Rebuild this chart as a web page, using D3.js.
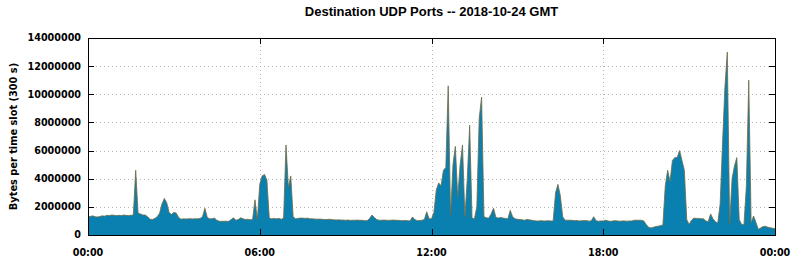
<!DOCTYPE html>
<html>
<head>
<meta charset="utf-8">
<script src="https://cdn.jsdelivr.net/npm/d3@7"></script>
<style>
    html, body { margin: 0; padding: 0; background: #ffffff; }
    svg { display: block; }
</style>
</head>
<body>
<div id="chart"></div>
<script>
'use strict';

// bytes per 5 minute slot, in millions, one row per hour (00:00 .. 24:00)
var bytesMillions = [
    1.30,1.32,1.36,1.30,1.28,1.32,1.36,1.34,1.40,1.38,1.42,1.40,
    1.38,1.40,1.38,1.42,1.40,1.38,1.40,1.42,4.60,1.55,1.50,1.42,
    1.42,1.30,1.12,1.10,1.18,1.30,1.55,2.20,2.60,2.30,1.60,1.45,
    1.62,1.55,1.25,1.12,1.15,1.14,1.15,1.16,1.14,1.16,1.15,1.18,
    1.30,1.90,1.25,1.15,1.15,1.20,1.05,0.98,0.97,0.98,0.98,0.97,
    1.10,1.22,1.05,1.10,1.22,1.15,1.10,1.12,1.08,1.10,2.50,1.10,
    3.60,4.20,4.30,3.90,1.20,1.15,1.18,1.15,1.18,1.12,1.20,6.40,
    3.40,4.20,1.30,1.15,1.18,1.20,1.20,1.18,1.20,1.15,1.15,1.14,
    1.12,1.13,1.12,1.10,1.10,1.12,1.10,1.08,1.07,1.08,1.06,1.06,
    1.05,1.06,1.04,1.05,1.05,1.06,1.04,1.05,1.02,1.02,1.15,1.42,
    1.25,1.10,1.05,1.05,1.06,1.05,1.04,1.05,1.06,1.05,1.04,1.03,
    1.02,1.03,1.02,1.00,1.28,1.10,1.02,1.03,1.05,1.10,1.65,1.15,
    1.15,1.60,3.20,3.70,3.50,4.60,4.80,10.60,1.40,5.00,6.30,2.70,
    5.00,6.40,1.30,4.00,7.80,1.20,1.15,2.00,8.30,9.80,1.30,1.22,
    1.20,1.50,1.90,1.25,1.20,1.25,1.20,1.18,1.15,1.75,1.30,1.15,
    1.12,1.10,1.08,1.05,1.10,1.08,1.05,1.02,1.00,1.00,1.02,1.00,
    1.00,1.02,1.00,1.00,3.00,3.60,2.80,1.30,1.05,1.05,1.05,1.04,
    1.02,1.03,1.00,1.02,1.02,1.03,0.98,1.02,1.30,1.02,0.98,1.00,
    1.00,1.05,1.00,0.97,1.00,1.02,1.00,0.98,1.00,1.00,0.98,1.00,
    1.00,1.05,1.05,1.05,1.05,1.00,0.75,0.55,0.50,0.55,0.60,0.62,
    0.68,0.70,3.50,4.60,3.80,5.30,5.50,5.50,6.00,5.30,4.60,1.10,
    0.75,1.05,1.20,1.18,1.18,1.15,1.15,1.00,0.95,1.50,1.15,0.95,
    0.85,2.20,6.50,10.50,13.00,0.80,4.00,4.90,5.50,1.10,0.75,0.75,
    3.50,11.00,0.85,1.35,0.90,0.40,0.50,0.60,0.62,0.55,0.52,0.48,
    0.45
];

var slotMinutes = 5;
var yTicks      = [0, 2000000, 4000000, 6000000, 8000000, 10000000, 12000000, 14000000];
var xTickHours  = [0, 6, 12, 18, 24];
var xTickLabels = ["00:00", "06:00", "12:00", "18:00", "00:00"];

var titleText  = "Destination UDP Ports -- 2018-10-24 GMT";
var yLabelText = "Bytes per time slot (300 s)";

/*==============================
=            Layout            =
==============================*/
var width  = 794,
    height = 260,
    margin = { top: 38, right: 19, bottom: 25, left: 88 };

var plotW = width - margin.left - margin.right,
    plotH = height - margin.top - margin.bottom;

var svg = d3.select("#chart").append("svg")
    .attr("width", width)
    .attr("height", height);

var x = d3.scaleLinear().domain([0, 24]).range([0, plotW]);
var y = d3.scaleLinear().domain([0, 14000000]).range([plotH, 0]);

var g = svg.append("g")
    .attr("transform", "translate(" + margin.left + "," + margin.top + ")");

/*==============================
=             Grid             =
==============================*/
g.append("g").selectAll("line").data(yTicks.slice(1, -1)).enter()
    .append("line")
        .attr("x1", 0).attr("x2", plotW)
        .attr("y1", function(d) { return Math.round(y(d)) + 0.5; })
        .attr("y2", function(d) { return Math.round(y(d)) + 0.5; })
        .attr("stroke", "#b4b4b4")
        .attr("stroke-dasharray", "1,3");

g.append("g").selectAll("line").data(xTickHours.slice(1, -1)).enter()
    .append("line")
        .attr("x1", function(d) { return Math.round(x(d)) + 0.5; })
        .attr("x2", function(d) { return Math.round(x(d)) + 0.5; })
        .attr("y1", 0).attr("y2", plotH)
        .attr("stroke", "#b4b4b4")
        .attr("stroke-dasharray", "1,3");

/*==============================
=             Area             =
==============================*/
var points = bytesMillions.map(function(v, i) {
    return { hour: i * slotMinutes / 60, value: v * 1000000 };
});

var area = d3.area()
    .x(function(d) { return x(d.hour); })
    .y0(plotH)
    .y1(function(d) { return y(d.value); });

var topLine = d3.line()
    .x(function(d) { return x(d.hour); })
    .y(function(d) { return y(d.value); });

g.append("path")
    .datum(points)
    .attr("d", area)
    .attr("fill", "#0a80b1");

g.append("path")
    .datum(points)
    .attr("d", topLine)
    .attr("fill", "none")
    .attr("stroke", "#6f6a42")
    .attr("stroke-width", 0.8);

/*==============================
=        Border and ticks      =
==============================*/
g.append("rect")
    .attr("x", 0.5).attr("y", 0.5)
    .attr("width", plotW).attr("height", plotH)
    .attr("fill", "none")
    .attr("stroke", "#000")
    .attr("stroke-width", 1);

var tickLen = 6;
var ticks = g.append("g").attr("stroke", "#000");
yTicks.forEach(function(t) {
    var yy = Math.round(y(t)) + 0.5;
    ticks.append("line").attr("x1", 0).attr("x2", tickLen).attr("y1", yy).attr("y2", yy);
    ticks.append("line").attr("x1", plotW - tickLen).attr("x2", plotW).attr("y1", yy).attr("y2", yy);
});
xTickHours.forEach(function(h) {
    var xx = Math.round(x(h)) + 0.5;
    ticks.append("line").attr("x1", xx).attr("x2", xx).attr("y1", 0).attr("y2", tickLen);
    ticks.append("line").attr("x1", xx).attr("x2", xx).attr("y1", plotH - tickLen).attr("y2", plotH);
});

/*==============================
=            Labels            =
==============================*/
var labelFont = "'DejaVu Sans', sans-serif";

g.append("g").selectAll("text").data(yTicks).enter()
    .append("text")
        .attr("x", -7)
        .attr("y", function(d) { return y(d); })
        .attr("dy", "0.36em")
        .attr("text-anchor", "end")
        .style("font-family", labelFont)
        .style("font-weight", "bold")
        .style("font-size", "9.6px")
        .text(function(d) { return d; });

g.append("g").selectAll("text").data(xTickHours).enter()
    .append("text")
        .attr("x", function(d) { return x(d); })
        .attr("y", plotH + 21)
        .attr("text-anchor", "middle")
        .style("font-family", labelFont)
        .style("font-weight", "bold")
        .style("font-size", "9.6px")
        .text(function(d, i) { return xTickLabels[i]; });

svg.append("text")
    .attr("transform", "translate(17," + (margin.top + plotH / 2) + ") rotate(-90)")
    .attr("text-anchor", "middle")
    .style("font-family", labelFont)
    .style("font-weight", "bold")
    .style("font-size", "9.8px")
    .text(yLabelText);

svg.append("text")
    .attr("x", margin.left + plotW / 2)
    .attr("y", 16)
    .attr("text-anchor", "middle")
    .style("font-family", "'Liberation Sans', Arial, sans-serif")
    .style("font-weight", "bold")
    .style("font-size", "13px")
    .text(titleText);
</script>
</body>
</html>
